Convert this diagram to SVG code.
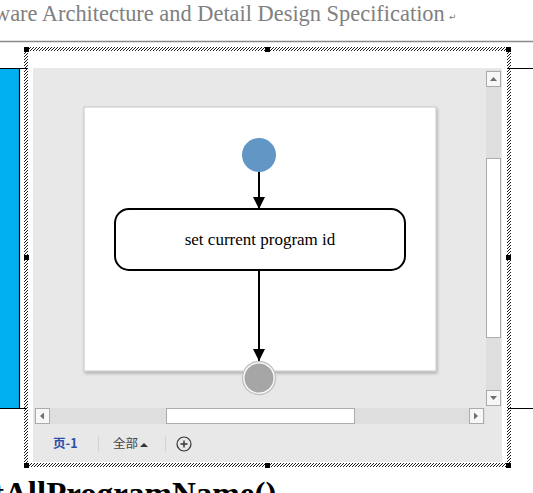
<svg xmlns="http://www.w3.org/2000/svg" width="533" height="493" viewBox="0 0 533 493">
<style>
.serif{font-family:"Liberation Serif","Times New Roman",serif}
.ui{font-family:"Noto Sans CJK SC","Noto Sans",sans-serif;font-size:12.5px}
.btn{fill:#F7F7F7;stroke:#ABABAB;stroke-width:1}
.tri{fill:#6E6E6E}
.conn{stroke:#000;stroke-width:2;fill:none}
.handle{fill:#000}
</style>
<defs>
<pattern id="hatch" patternUnits="userSpaceOnUse" width="3" height="3">
<path d="M-1,4 L4,-1" stroke="#000" stroke-width="0.9"/>
</pattern>
<marker id="arrow" markerWidth="12" markerHeight="12" viewBox="0 0 12 12" refX="12" refY="6" orient="auto" markerUnits="userSpaceOnUse">
<path d="M0,0 L12,6 L0,12 Z" fill="#000"/>
</marker>
<filter id="shadow" x="-5%" y="-5%" width="115%" height="115%">
<feDropShadow dx="1" dy="2" stdDeviation="1.5" flood-color="#000" flood-opacity="0.25"/>
</filter>
</defs>
<rect width="533" height="493" fill="#fff"/>
<!-- document header -->
<text class="serif" x="-6" y="21" font-size="22.4" fill="#808080">ware Architecture and Detail Design Specification</text>
<text x="449" y="20" font-family="DejaVu Sans,sans-serif" font-size="9" fill="#808080">↵</text>
<line x1="0" y1="41.5" x2="533" y2="41.5" stroke="#8A8A8A" stroke-width="1.5"/>
<!-- table borders -->
<rect x="0" y="68" width="19" height="340" fill="#00B0F0"/>
<path d="M0,68.5 H27 M19.5,68 V408 M0,408.5 H27 M508,68.5 H533 M508,408.5 H533" stroke="#000" stroke-width="1.2" fill="none"/>
<!-- visio window -->
<rect x="33" y="68" width="469" height="394" fill="#E8E8E8"/>
<g id="page">
<rect x="84" y="107" width="352" height="264" fill="#fff" stroke="#C6C6C6" stroke-width="1" filter="url(#shadow)"/>
</g>
<!-- vertical scrollbar -->
<rect x="486" y="70" width="15" height="336" fill="#DEDEDE"/>
<rect class="btn" x="486.5" y="71.5" width="14" height="15"/>
<path class="tri" d="M490,81 L497,81 L493.5,77 Z"/>
<rect x="486.5" y="158.5" width="14" height="179" fill="#fff" stroke="#ABABAB"/>
<rect class="btn" x="486.5" y="390.5" width="14" height="15"/>
<path class="tri" d="M490,396 L497,396 L493.5,400 Z"/>
<!-- horizontal scrollbar -->
<rect x="34" y="408" width="451" height="16" fill="#DEDEDE"/>
<rect class="btn" x="35.5" y="408.5" width="14" height="15"/>
<path class="tri" d="M44,412.5 L44,419.5 L40,416 Z"/>
<rect x="166.5" y="408.5" width="188" height="15" fill="#fff" stroke="#ABABAB"/>
<rect class="btn" x="469.5" y="408.5" width="14" height="15"/>
<path class="tri" d="M474,412.5 L474,419.5 L478,416 Z"/>
<!-- bottom tabs -->
<text class="ui" x="53" y="448" fill="#2B4FA8" font-weight="bold">页-1</text>
<line x1="98.5" y1="436" x2="98.5" y2="452" stroke="#D4D4D4"/>
<text class="ui" x="113" y="448" fill="#444">全部</text>
<path d="M140,447 L148,447 L144,443 Z" fill="#333"/>
<line x1="165.5" y1="436" x2="165.5" y2="452" stroke="#D4D4D4"/>
<circle cx="184" cy="444" r="7" fill="none" stroke="#333" stroke-width="1.2"/>
<path d="M180.5,444 H187.5 M184,440.5 V447.5" stroke="#333" stroke-width="1.4"/>
<!-- connectors -->
<g id="connectors">
<line class="conn" x1="259" y1="172" x2="259" y2="209" marker-end="url(#arrow)"/>
<line class="conn" x1="259" y1="270" x2="259" y2="361" marker-end="url(#arrow)"/>
</g>
<g id="start">
<circle cx="259" cy="155" r="17" fill="#6296C4"/>
</g>
<g id="action">
<rect x="115" y="209" width="290" height="61" rx="14" ry="14" fill="#fff" stroke="#000" stroke-width="2"/>
<text class="serif" x="260" y="245" font-size="17" text-anchor="middle" fill="#000">set current program id</text>
</g>
<g id="end">
<circle cx="259" cy="378" r="16.5" fill="#fff" stroke="#C4C4C4" stroke-width="1.5"/>
<circle cx="259" cy="378" r="14.5" fill="#A6A6A6"/>
</g>
<!-- selection frame -->
<rect x="26" y="49" width="483" height="416" fill="none" stroke="url(#hatch)" stroke-width="4"/>
<g class="handle">
<rect x="24" y="47" width="5" height="5"/>
<rect x="265" y="47" width="5" height="5"/>
<rect x="506" y="47" width="5" height="5"/>
<rect x="24" y="255" width="5" height="5"/>
<rect x="506" y="255" width="5" height="5"/>
<rect x="24" y="463" width="5" height="5"/>
<rect x="265" y="463" width="5" height="5"/>
<rect x="506" y="463" width="5" height="5"/>
</g>
<!-- following heading -->
<text class="serif" x="-7" y="505" font-size="33" font-weight="bold" fill="#000">tAllProgramName()</text>
</svg>
